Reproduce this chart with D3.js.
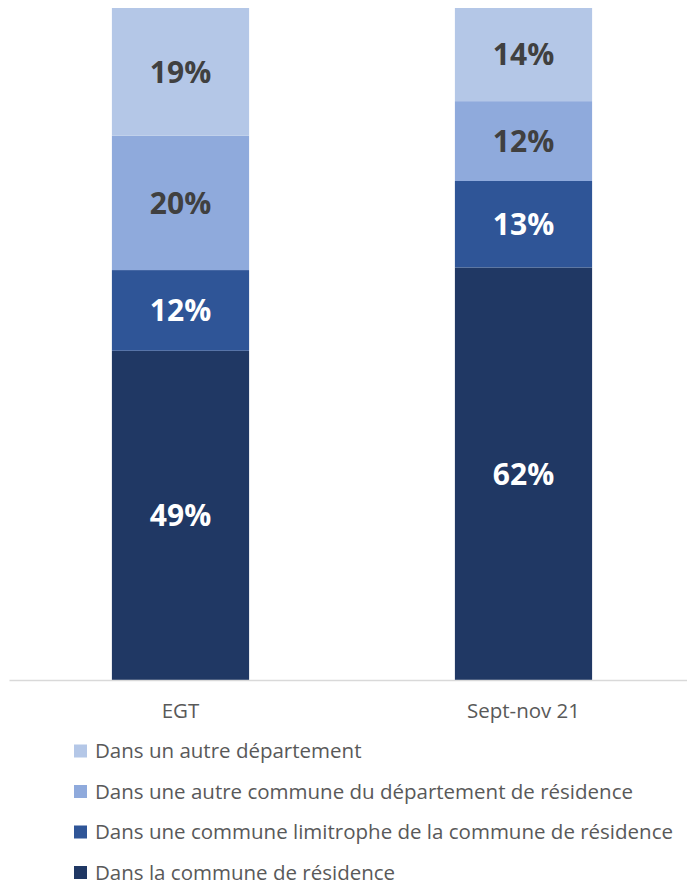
<!DOCTYPE html>
<html>
<head>
<meta charset="utf-8">
<script src="https://cdn.jsdelivr.net/npm/d3@7"></script>
<style>
  html, body { margin: 0; padding: 0; background: #fff; }
  svg { display: block; }
  text { font-family: "Open Sans", "Noto Sans", sans-serif; }
</style>
</head>
<body>
<svg id="chart" width="687" height="885"></svg>
<script>
// Périodes comparées
const categories = ["EGT", "Sept-nov 21"];

// Lieux, du bas vers le haut de la pile
const seriesNames = [
  "Dans la commune de résidence",
  "Dans une commune limitrophe de la commune de résidence",
  "Dans une autre commune du département de résidence",
  "Dans un autre département"
];

// Parts (%) par lieu, dans l'ordre des périodes
const communeResidence = [49, 62];
const communeLimitrophe = [12, 13];
const autreCommuneDept = [20, 12];
const autreDepartement = [19, 14];

const seriesColors = ["#203864", "#2F5597", "#8FAADC", "#B4C7E7"];
const labelColors = ["#ffffff", "#ffffff", "#404040", "#404040"];

const seriesValues = [communeResidence, communeLimitrophe, autreCommuneDept, autreDepartement];
const rows = categories.map((c, i) => {
  const r = { cat: c };
  seriesNames.forEach((s, k) => { r[s] = seriesValues[k][i]; });
  return r;
});

// Barres empilées à 100 %
const stack = d3.stack().keys(seriesNames).offset(d3.stackOffsetExpand);
const layers = stack(rows);

const svg = d3.select("#chart");
const baseY = 680, topY = 8;

const x = d3.scaleBand().domain(categories).range([9, 695]).paddingInner(0).paddingOuter(0);
const barW = x.step() * 0.4;
const y = d3.scaleLinear().domain([0, 1]).range([baseY, topY]);

const g = svg.append("g");
layers.forEach((layer, k) => {
  const lg = g.append("g");
  lg.selectAll("rect").data(layer).join("rect")
    .attr("x", d => x(d.data.cat) + (x.bandwidth() - barW) / 2)
    .attr("width", barW)
    .attr("y", d => y(d[1]))
    .attr("height", d => y(d[0]) - y(d[1]))
    .attr("fill", seriesColors[k]);
  lg.selectAll("text").data(layer).join("text")
    .attr("x", d => x(d.data.cat) + x.bandwidth() / 2)
    .attr("y", d => (y(d[0]) + y(d[1])) / 2)
    .attr("dy", "0.36em")
    .attr("text-anchor", "middle")
    .attr("font-size", 30)
    .attr("font-weight", 700)
    .attr("fill", labelColors[k])
    .text(d => d.data[layer.key] + "%");
});

// Axe des catégories
const xAxis = svg.append("g").attr("transform", `translate(0,${baseY})`)
  .call(d3.axisBottom(x).tickSize(0));
xAxis.select(".domain").attr("stroke", "#d9d9d9").attr("stroke-width", 1.5);
xAxis.selectAll("text")
  .attr("y", 38)
  .attr("dy", 0)
  .attr("font-size", 20.5)
  .attr("fill", "#595959")
  .style("font-family", "'Open Sans', sans-serif");

// Légende (ordre inverse de la pile)
const legendItems = seriesNames.map((s, k) => ({ name: s, color: seriesColors[k] })).reverse();
const legend = svg.append("g");
const leg = legend.selectAll("g").data(legendItems).join("g")
  .attr("transform", (d, i) => `translate(74,${751 + i * 40.5})`);
leg.append("rect")
  .attr("x", 0).attr("y", -6.5).attr("width", 13).attr("height", 13)
  .attr("fill", d => d.color);
leg.append("text")
  .attr("x", 21).attr("y", 0).attr("dy", "0.35em")
  .attr("font-size", 20.5)
  .attr("fill", "#595959")
  .text(d => d.name);
</script>
</body>
</html>
